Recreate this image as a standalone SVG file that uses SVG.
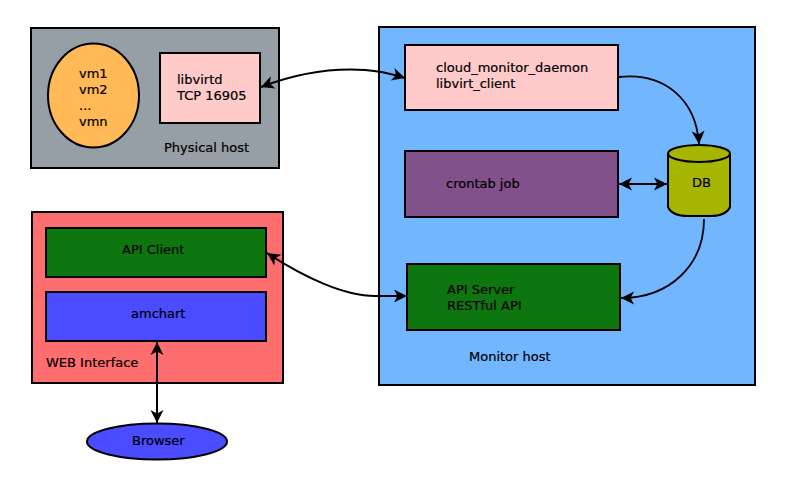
<svg xmlns="http://www.w3.org/2000/svg" width="796" height="482" viewBox="0 0 796 482">
<style>
.s{stroke:#000;stroke-width:2}
text{font-family:"DejaVu Sans",sans-serif;font-size:13px;fill:#000;stroke:#000;stroke-width:.2}
.c{fill:none;stroke:#000;stroke-width:1.8}
.t{stroke-width:2}
</style>
<defs>
<marker id="a" markerUnits="userSpaceOnUse" markerWidth="16" markerHeight="16" viewBox="0 0 16 16" refX="14" refY="8" orient="auto"><path d="M14 8L1 1.500L4.500 8L1 14.500Z" fill="#000"/></marker>
<marker id="b" markerUnits="userSpaceOnUse" markerWidth="16" markerHeight="16" viewBox="0 0 16 16" refX="2" refY="8" orient="auto"><path d="M2 8L15 1.500L11.500 8L15 14.500Z" fill="#000"/></marker>
</defs>
<g id="physical-host"><rect class="s" x="31" y="28" width="248" height="140" fill="#969fa5"/><text x="164" y="152">Physical host</text></g>
<g id="vms"><ellipse class="s" cx="93.500" cy="95.500" rx="45.500" ry="52" fill="#ffb957"/><text x="79" y="78">vm1</text><text x="79" y="94">vm2</text><text x="79" y="110">...</text><text x="79" y="126">vmn</text></g>
<g id="libvirtd"><rect class="s" x="160" y="53" width="100" height="70" fill="#ffcaca"/><text x="177" y="84">libvirtd</text><text x="177" y="100">TCP 16905</text></g>
<g id="monitor-host"><rect class="s" x="379" y="27" width="376" height="358" fill="#72b6ff"/><text x="469" y="361">Monitor host</text></g>
<g id="daemon"><rect class="s" x="405" y="45" width="213" height="65" fill="#ffcaca"/><text x="436" y="72">cloud_monitor_daemon</text><text x="436" y="88">libvirt_client</text></g>
<g id="crontab"><rect class="s" x="405" y="151" width="213" height="66" fill="#82508a"/><text x="446" y="188">crontab job</text></g>
<g id="api-server"><rect class="s" x="407" y="264" width="213" height="66" fill="#0e760e"/><text x="447" y="294">API Server</text><text x="447" y="310">RESTful API</text></g>
<g id="db"><path class="s" d="M668 154V207Q672 216 688 216H710Q726 216 730 207V154Z" fill="#a5b500"/><ellipse class="s" cx="699" cy="153.500" rx="31" ry="8.500" fill="#a5b500"/><text x="692" y="187">DB</text></g>
<g id="web-interface"><rect class="s" x="32" y="212" width="251" height="171" fill="#ff6e6e"/><text x="46" y="367">WEB Interface</text></g>
<g id="api-client"><rect class="s" x="46" y="228" width="220" height="49" fill="#0e760e"/><text x="122" y="254">API Client</text></g>
<g id="amchart"><rect class="s" x="46" y="292" width="220" height="49" fill="#4b4bff"/><text x="131" y="318">amchart</text></g>
<g id="browser"><ellipse class="s" cx="157" cy="441.500" rx="70" ry="18" fill="#4b4bff"/><text x="132" y="445">Browser</text></g>
<g id="connectors">
<path class="c t" d="M261 87C300 72 335 68 365 70C380 71 392 74 405 78" marker-start="url(#b)" marker-end="url(#a)"/>
<path class="c" d="M619 77C665 72 696 100 699 144" marker-end="url(#a)"/>
<path class="c t" d="M619 184H667" marker-start="url(#b)" marker-end="url(#a)"/>
<path class="c" d="M704 219C704 265 670 298 621 298" marker-end="url(#a)"/>
<path class="c t" d="M267 253C305 278 345 296 375 296H407" marker-start="url(#b)" marker-end="url(#a)"/>
<path class="c t" d="M157 342V423" marker-start="url(#b)" marker-end="url(#a)"/>
</g>
</svg>
